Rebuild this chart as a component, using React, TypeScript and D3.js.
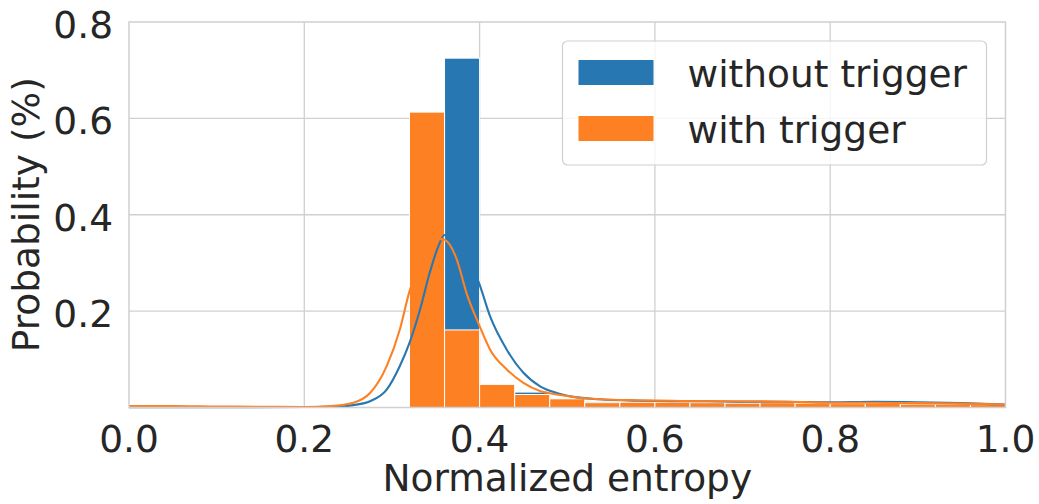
import React from "react";
import * as d3 from "d3";

// Histogram bin edges (normalized entropy)
const binEdges = [0.32, 0.36, 0.4, 0.44, 0.48, 0.52, 0.56, 0.6, 0.64, 0.68, 0.72, 0.76, 0.8, 0.84, 0.88, 0.92, 0.96, 1.0];

// Per-bin probability for each condition
const withoutTrigger = [0.09, 0.725, 0.045, 0.032, 0.016, 0.012, 0.01, 0.009, 0.009, 0.011, 0.008, 0.007, 0.01, 0.007, 0.009, 0.006, 0.005];
const withTrigger = [0.613, 0.161, 0.048, 0.027, 0.018, 0.01, 0.011, 0.011, 0.01, 0.009, 0.01, 0.009, 0.008, 0.009, 0.007, 0.007, 0.006];

// Density curves (scaled to the histogram)
const kdeWithoutX = [0, 0.1, 0.2, 0.24, 0.256, 0.275, 0.294, 0.309, 0.32, 0.332, 0.343, 0.352, 0.36, 0.37, 0.38, 0.39, 0.4, 0.412, 0.431, 0.45, 0.469, 0.488, 0.507, 0.537, 0.58, 0.62, 0.66, 0.7, 0.75, 0.8, 0.85, 0.9, 0.95, 1.0];
const kdeWithoutY = [0.0005, 0.0005, 0.001, 0.002, 0.005, 0.013, 0.037, 0.086, 0.134, 0.203, 0.279, 0.33, 0.358, 0.352, 0.335, 0.3, 0.255, 0.189, 0.12, 0.072, 0.044, 0.03, 0.022, 0.017, 0.014, 0.013, 0.013, 0.012, 0.012, 0.011, 0.012, 0.011, 0.009, 0.006];
const kdeWithX = [0, 0.05, 0.1, 0.15, 0.2, 0.23, 0.256, 0.275, 0.294, 0.309, 0.32, 0.332, 0.343, 0.352, 0.36, 0.374, 0.385, 0.4, 0.412, 0.431, 0.45, 0.469, 0.488, 0.537, 0.58, 0.62, 0.66, 0.7, 0.75, 0.8, 0.85, 0.9, 0.95, 1.0];
const kdeWithY = [0.003, 0.003, 0.002, 0.0015, 0.001, 0.003, 0.01, 0.03, 0.086, 0.162, 0.241, 0.3, 0.335, 0.35, 0.348, 0.307, 0.238, 0.169, 0.12, 0.079, 0.051, 0.034, 0.027, 0.017, 0.015, 0.014, 0.013, 0.013, 0.012, 0.01, 0.01, 0.009, 0.008, 0.006];

const xTicks = [0, 0.2, 0.4, 0.6, 0.8, 1.0];
const yTicks = [0.2, 0.4, 0.6, 0.8];
const seriesNames = ["without trigger", "with trigger"];

const BLUE = "#2777b2";
const ORANGE = "#fd8023";
const TEXT = "#262626";
const GRID = "#d0d0d0";
const FONT = "'DejaVu Sans', sans-serif";
const FS = 37.5;

const W = 1039;
const H = 504;
const left = 129;
const right = 1005.5;
const top = 22;
const bottom = 407.5;

export default function App() {
  const x = d3.scaleLinear().domain([0, 1]).range([left, right]);
  const y = d3.scaleLinear().domain([0, 0.8]).range([bottom, top]);

  const line = d3
    .line<[number, number]>()
    .x((d) => x(d[0]))
    .y((d) => y(d[1]))
    .curve(d3.curveMonotoneX);

  const kdeWithout = line(kdeWithoutX.map((v, i) => [v, kdeWithoutY[i]] as [number, number])) || "";
  const kdeWith = line(kdeWithX.map((v, i) => [v, kdeWithY[i]] as [number, number])) || "";

  const bars = (vals: number[], color: string, key: string) =>
    vals.map((v, i) => (
      <rect
        key={key + i}
        x={x(binEdges[i])}
        y={y(v)}
        width={x(binEdges[i + 1]) - x(binEdges[i])}
        height={y(0) - y(v)}
        fill={color}
        stroke="#ffffff"
        strokeWidth={1}
      />
    ));

  const fmt = d3.format(".1f");

  return (
    <svg
      width={W}
      height={H}
      style={{ position: "absolute", left: 0, top: 0, background: "#fff" }}
      fontFamily={FONT}
    >
      <rect x={0} y={0} width={W} height={H} fill="#fff" />
      {/* grid */}
      {xTicks
        .filter((t) => t > 0 && t < 1)
        .map((t) => (
          <line key={"gx" + t} x1={x(t)} x2={x(t)} y1={top} y2={bottom} stroke={GRID} strokeWidth={1.3} />
        ))}
      {yTicks
        .filter((t) => t < 0.8)
        .map((t) => (
          <line key={"gy" + t} x1={left} x2={right} y1={y(t)} y2={y(t)} stroke={GRID} strokeWidth={1.3} />
        ))}

      {/* histogram bars */}
      {bars(withoutTrigger, BLUE, "b")}
      {bars(withTrigger, ORANGE, "o")}

      {/* density curves */}
      <path d={kdeWithout} fill="none" stroke={BLUE} strokeWidth={2.1} />
      <path d={kdeWith} fill="none" stroke={ORANGE} strokeWidth={2.1} />

      {/* frame */}
      <rect x={left} y={top} width={right - left} height={bottom - top} fill="none" stroke={GRID} strokeWidth={1.5} />

      {/* tick labels */}
      {xTicks.map((t) => (
        <text key={"xt" + t} x={x(t)} y={452} textAnchor="middle" fontSize={FS} fill={TEXT}>
          {fmt(t)}
        </text>
      ))}
      {yTicks.map((t) => (
        <text key={"yt" + t} x={113} y={y(t) + 16} textAnchor="end" fontSize={FS} fill={TEXT}>
          {fmt(t)}
        </text>
      ))}

      {/* axis titles */}
      <text x={(left + right) / 2} y={491} textAnchor="middle" fontSize={FS} fill={TEXT}>
        Normalized entropy
      </text>
      <text
        transform={`translate(39, ${(top + bottom) / 2}) rotate(-90)`}
        textAnchor="middle"
        fontSize={FS}
        fill={TEXT}
      >
        Probability (%)
      </text>

      {/* legend */}
      <rect x={562.5} y={41} width={424} height={124} rx={5} fill="#fff" fillOpacity={0.8} stroke={GRID} strokeWidth={1.2} />
      {seriesNames.map((name, i) => (
        <g key={name}>
          <rect x={578.5} y={60 + i * 56} width={75} height={25} fill={i === 0 ? BLUE : ORANGE} />
          <text x={687.5} y={86.5 + i * 56} fontSize={FS} fill={TEXT}>
            {name}
          </text>
        </g>
      ))}
    </svg>
  );
}
